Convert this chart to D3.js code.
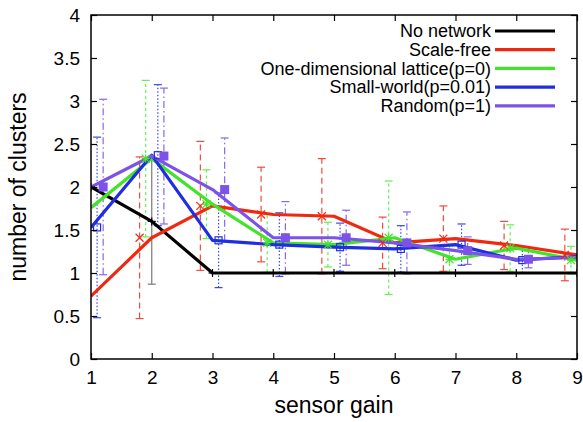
<!DOCTYPE html>
<html>
<head>
<meta charset="utf-8">
<script src="https://cdn.jsdelivr.net/npm/d3@7"></script>
<style>
  body { margin: 0; background: #fff; }
  text { font-family: "Liberation Sans", Arial, Helvetica, sans-serif; fill: #000; }
</style>
</head>
<body>
<div id="chart-container"></div>
<script>
// sensor gain on the x axis
var gains = [1, 2, 3, 4, 5, 6, 7, 8, 9];

// mean number of clusters + error (half height of the bar) per network type
var noNetwork     = [2.0, 1.6, 1.0, 1.0, 1.0, 1.0, 1.0, 1.0, 1.0];
var noNetworkErr  = [0, 0.73, 0, 0, 0, 0, 0, 0, 0];
var scaleFree     = [0.73, 1.41, 1.78, 1.68, 1.66, 1.35, 1.40, 1.32, 1.21];
var scaleFreeErr  = [0.9, 0.94, 0.75, 0.55, 0.67, 0.30, 0.38, 0.28, 0.30];
var lattice       = [1.76, 2.33, 1.80, 1.35, 1.33, 1.41, 1.16, 1.29, 1.15];
var latticeErr    = [0.9, 0.91, 0.40, 0.34, 0.26, 0.66, 0.15, 0.27, 0.16];
var smallWorld    = [1.53, 2.37, 1.38, 1.33, 1.30, 1.28, 1.33, 1.15, 1.19];
var smallWorldErr = [1.05, 0.82, 0.55, 0.37, 0.28, 0.27, 0.24, 0.15, 0.2];
var randomNet     = [2.0, 2.36, 1.97, 1.41, 1.41, 1.35, 1.26, 1.16, 1.18];
var randomNetErr  = [1.02, 0.79, 0.60, 0.42, 0.32, 0.36, 0.16, 0.10, 0.10];

var seriesNames = ["No network", "Scale-free", "One-dimensional lattice(p=0)", "Small-world(p=0.01)", "Random(p=1)"];
var xTicks = [1, 2, 3, 4, 5, 6, 7, 8, 9];
var yTicks = [0, 0.5, 1, 1.5, 2, 2.5, 3, 3.5, 4];

var series = [
  {name: seriesNames[0], values: noNetwork,  err: noNetworkErr,  shift: 0,    color: "#000000", barColor: "#7a7a7a", dash: null,          marker: "plus"},
  {name: seriesNames[1], values: scaleFree,  err: scaleFreeErr,  shift: -0.2, color: "#f0280f", barColor: "#f24a3a", dash: "6,4",       marker: "cross"},
  {name: seriesNames[2], values: lattice,    err: latticeErr,    shift: -0.1, color: "#42e42a", barColor: "#66ee55", dash: "3,3",       marker: "star"},
  {name: seriesNames[3], values: smallWorld, err: smallWorldErr, shift: 0.1,  color: "#1f2ee0", barColor: "#3a4ae8", dash: "1.5,2",     marker: "square"},
  {name: seriesNames[4], values: randomNet,  err: randomNetErr,  shift: 0.2,  color: "#7d52e8", barColor: "#8a66ea", dash: "7,3,1.5,3", marker: "filled"}
];

var width = 583, height = 422;
var margin = {top: 15, right: 6, bottom: 63, left: 91};

var x = d3.scaleLinear().domain([1, 9]).range([margin.left, width - margin.right]);
var y = d3.scaleLinear().domain([0, 4]).range([height - margin.bottom, margin.top]);

var svg = d3.select("#chart-container").append("svg")
    .attr("width", width)
    .attr("height", height);

svg.append("clipPath").attr("id", "plotclip")
  .append("rect")
    .attr("x", x(1)).attr("y", y(4))
    .attr("width", x(9) - x(1)).attr("height", y(0) - y(4));

var plot = svg.append("g").attr("clip-path", "url(#plotclip)");

// error bars first
series.forEach(function(s) {
  var g = plot.append("g");
  s.values.forEach(function(v, i) {
    var e = s.err[i];
    if (!e) return;
    var px = x(gains[i] + s.shift);
    g.append("line")
      .attr("x1", px).attr("x2", px)
      .attr("y1", y(v - e)).attr("y2", y(v + e))
      .attr("stroke", s.barColor).attr("stroke-width", 1.2)
      .attr("stroke-dasharray", s.dash);
    [v - e, v + e].forEach(function(c) {
      g.append("line")
        .attr("x1", px - 4).attr("x2", px + 4)
        .attr("y1", y(c)).attr("y2", y(c))
        .attr("stroke", s.barColor).attr("stroke-width", 1.2);
    });
  });
});

// lines through the true gain positions
var valueLine = d3.line()
    .x(function(d) { return x(d[0]); })
    .y(function(d) { return y(d[1]); });

series.forEach(function(s) {
  plot.append("path")
    .datum(gains.map(function(g, i) { return [g, s.values[i]]; }))
    .attr("fill", "none")
    .attr("stroke", s.color)
    .attr("stroke-width", 3.2)
    .attr("stroke-linejoin", "round")
    .attr("d", valueLine);
});

// point markers (shifted like the error bars)
function drawMarker(g, kind, px, py, color) {
  var r = 4;
  if (kind === "plus" || kind === "star") {
    g.append("line").attr("x1", px - r).attr("x2", px + r).attr("y1", py).attr("y2", py)
      .attr("stroke", color).attr("stroke-width", 1.2);
    g.append("line").attr("x1", px).attr("x2", px).attr("y1", py - r).attr("y2", py + r)
      .attr("stroke", color).attr("stroke-width", 1.2);
  }
  if (kind === "cross" || kind === "star") {
    g.append("line").attr("x1", px - r).attr("x2", px + r).attr("y1", py - r).attr("y2", py + r)
      .attr("stroke", color).attr("stroke-width", 1.2);
    g.append("line").attr("x1", px - r).attr("x2", px + r).attr("y1", py + r).attr("y2", py - r)
      .attr("stroke", color).attr("stroke-width", 1.2);
  }
  if (kind === "square") {
    g.append("rect").attr("x", px - 3.5).attr("y", py - 3.5).attr("width", 7).attr("height", 7)
      .attr("fill", "none").attr("stroke", color).attr("stroke-width", 1.2);
  }
  if (kind === "filled") {
    g.append("rect").attr("x", px - 4.5).attr("y", py - 4.5).attr("width", 9).attr("height", 9)
      .attr("fill", color);
  }
}

series.forEach(function(s) {
  var g = plot.append("g");
  s.values.forEach(function(v, i) {
    drawMarker(g, s.marker, x(gains[i] + s.shift), y(v), s.color);
  });
});

// frame with inward ticks on all four sides
svg.append("rect")
  .attr("x", x(1)).attr("y", y(4))
  .attr("width", x(9) - x(1)).attr("height", y(0) - y(4))
  .attr("fill", "none").attr("stroke", "#000").attr("stroke-width", 1.5);

var axisFont = "19px";

var xAxis = svg.append("g")
    .attr("transform", "translate(0," + y(0) + ")")
    .call(d3.axisBottom(x).tickValues(xTicks).tickSize(-6).tickPadding(12).tickFormat(d3.format("d")));
var xAxisTop = svg.append("g")
    .attr("transform", "translate(0," + y(4) + ")")
    .call(d3.axisTop(x).tickValues(xTicks).tickSize(-6).tickFormat(""));
var yAxis = svg.append("g")
    .attr("transform", "translate(" + x(1) + ",0)")
    .call(d3.axisLeft(y).tickValues(yTicks).tickSize(-6).tickPadding(11).tickFormat(function(d) { return d; }));
var yAxisRight = svg.append("g")
    .attr("transform", "translate(" + x(9) + ",0)")
    .call(d3.axisRight(y).tickValues(yTicks).tickSize(-6).tickFormat(""));

[xAxis, xAxisTop, yAxis, yAxisRight].forEach(function(a) {
  a.select(".domain").remove();
  a.selectAll(".tick line").attr("stroke", "#000").attr("stroke-width", 1.2);
  a.selectAll("text").style("font-size", axisFont).attr("font-family", null);
});

// axis titles
svg.append("text")
  .attr("x", (x(1) + x(9)) / 2)
  .attr("y", 413)
  .attr("text-anchor", "middle")
  .style("font-size", "23px")
  .text("sensor gain");

svg.append("text")
  .attr("transform", "translate(26," + ((y(0) + y(4)) / 2) + ") rotate(-90)")
  .attr("text-anchor", "middle")
  .style("font-size", "23px")
  .text("number of clusters");

// legend
var legend = svg.append("g");
series.forEach(function(s, i) {
  var ly = 31 + i * 18.7;
  legend.append("text")
    .attr("x", 491).attr("y", ly)
    .attr("dy", "0.35em")
    .attr("text-anchor", "end")
    .style("font-size", "18px")
    .text(s.name);
  legend.append("line")
    .attr("x1", 495).attr("x2", 555)
    .attr("y1", ly).attr("y2", ly)
    .attr("stroke", s.color).attr("stroke-width", 3.2);
});
</script>
</body>
</html>
